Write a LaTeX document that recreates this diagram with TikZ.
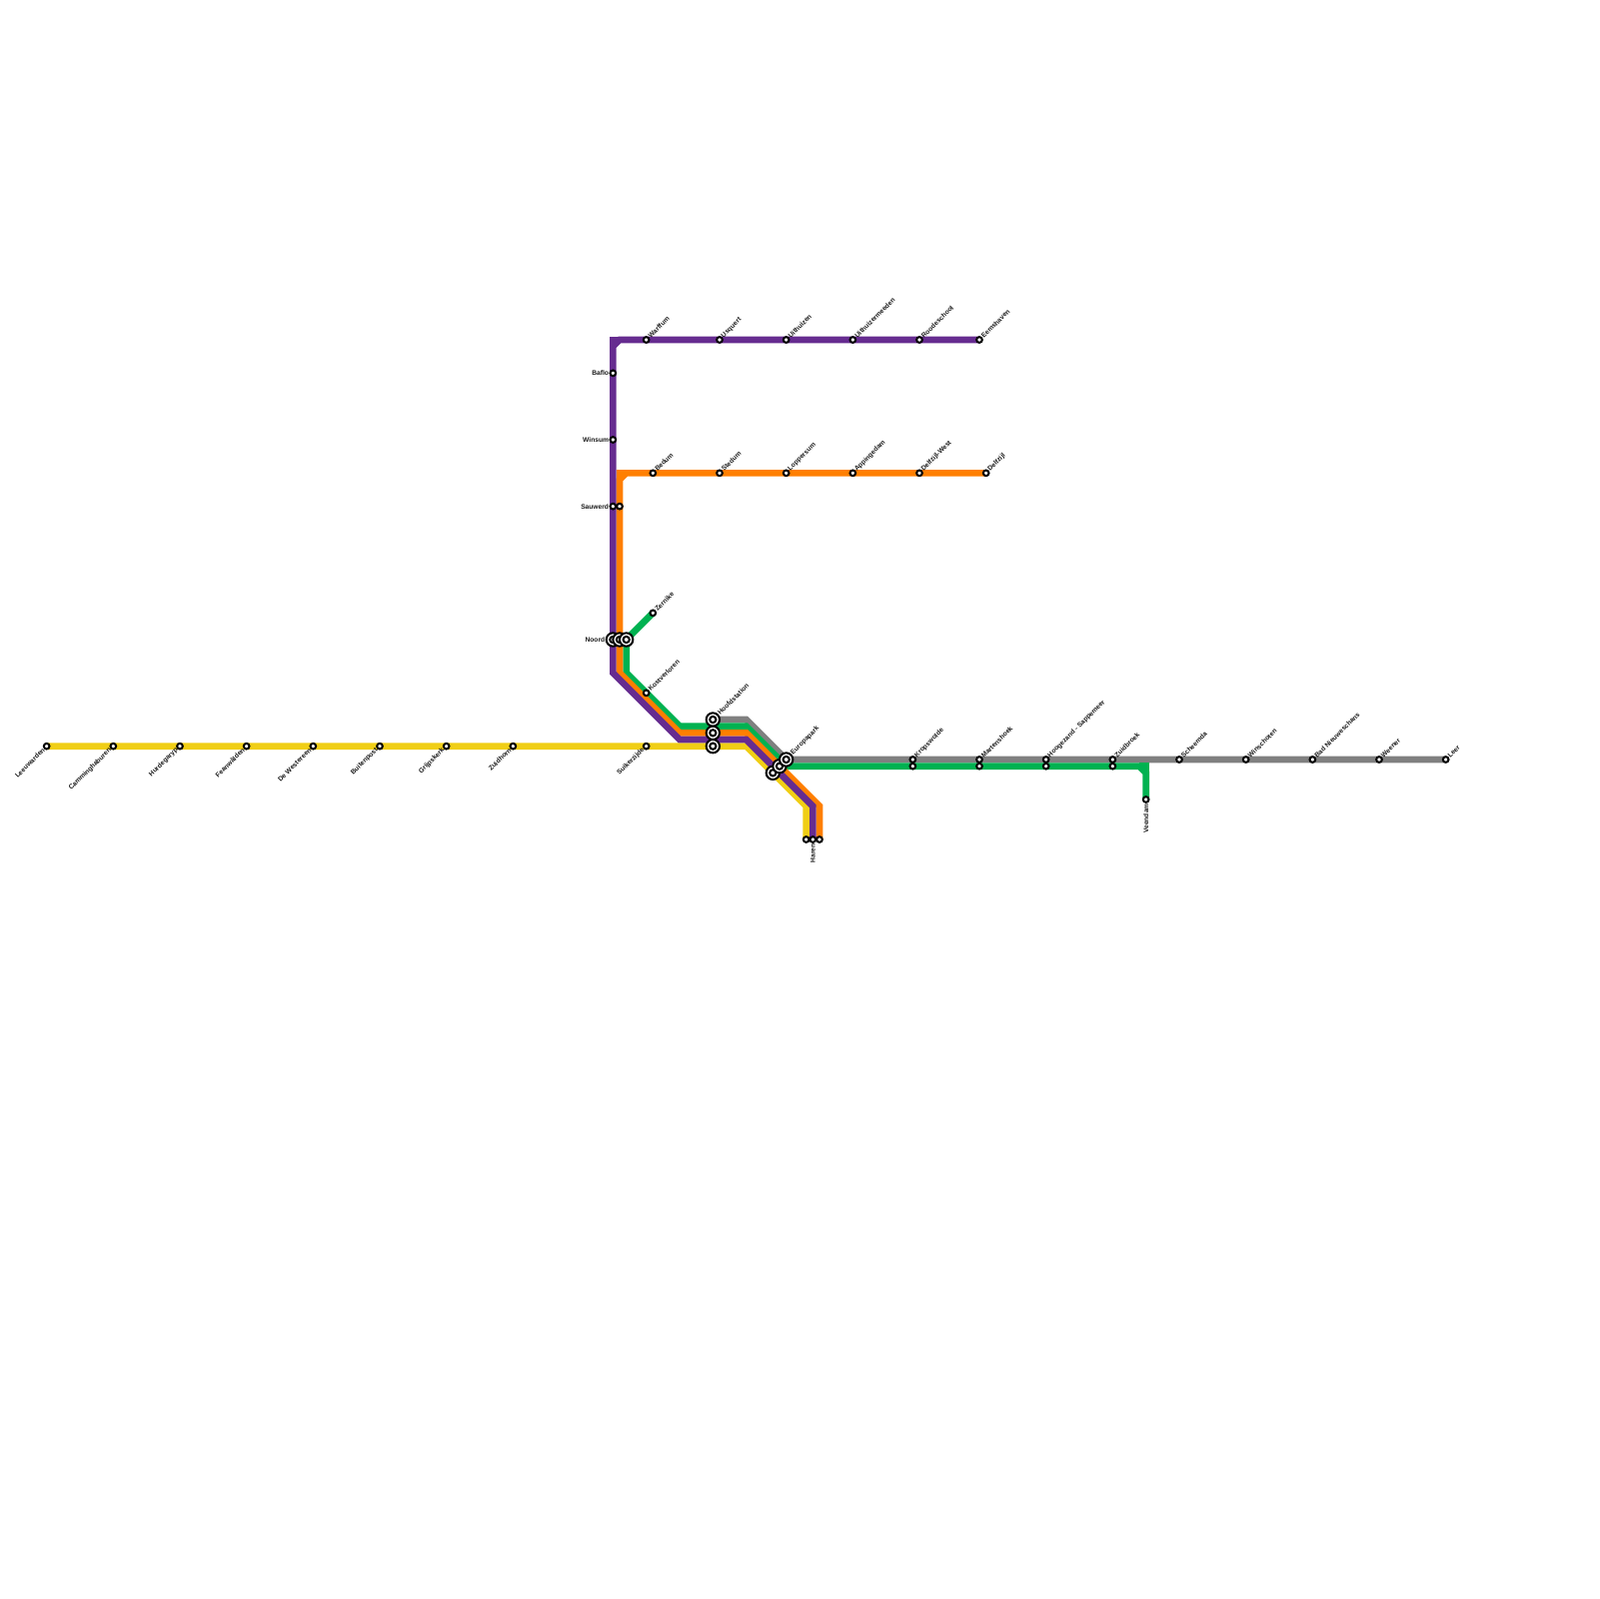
\documentclass[tikz,border=0pt]{standalone}
\usepackage{fontspec}
\setmainfont{Liberation Sans}
\usetikzlibrary{backgrounds}
\definecolor{lineyellow}{HTML}{F0CE15}
\definecolor{linepurple}{HTML}{662C90}
\definecolor{lineorange}{HTML}{FF7F00}
\definecolor{linegreen}{HTML}{00B251}
\definecolor{linegrey}{HTML}{808080}
\definecolor{labelink}{HTML}{1A1A1A}
\begin{document}
\begin{tikzpicture}[
  x=1mm, y=-1mm,
  stopnode/.style={circle, draw=black, line width=0.3mm, fill=white,
                   minimum size=0.85mm, inner sep=0pt, outer sep=0pt, label distance=0.15mm},
  hub/.style={stopnode, minimum size=2mm, label distance=0.3mm,
              path picture={\draw[black, line width=0.3mm] (path picture bounding box.center) circle (0.47);}},
  metro/.style={line width=1mm},
  labtext/.style={font=\fontsize{2.845}{3}\selectfont\bfseries, text=labelink, inner sep=0.15mm},
  labne/.style={labtext, rotate=45, anchor=west},
  labsw/.style={labtext, rotate=45, anchor=east},
  lableft/.style={labtext, anchor=east},
  labdown/.style={labtext, rotate=90, anchor=east}
]
  \node[stopnode, label={[labsw]225:Leeuwarden}] (leeuwarden) at (7,112) {};
  \node[stopnode, label={[labsw]225:Camminghaburen}] (camminghaburen) at (17,112) {};
  \node[stopnode, label={[labsw]225:Hurdegaryp}] (hurdegaryp) at (27,112) {};
  \node[stopnode, label={[labsw]225:Feanwâlden}] (feanwalden) at (37,112) {};
  \node[stopnode, label={[labsw]225:De Westereen}] (westereen) at (47,112) {};
  \node[stopnode, label={[labsw]225:Buitenpost}] (buitenpost) at (57,112) {};
  \node[stopnode, label={[labsw]225:Grijpskerk}] (grijpskerk) at (67,112) {};
  \node[stopnode, label={[labsw]225:Zuidhorn}] (zuidhorn) at (77,112) {};
  \node[stopnode, label={[labsw]225:Suikerzijde}] (suikerzijde) at (97,112) {};

  \node[stopnode, label={[labne]45:Warffum}] (warffum) at (97,51) {};
  \node[stopnode, label={[labne]45:Usquert}] (usquert) at (108,51) {};
  \node[stopnode, label={[labne]45:Uithuizen}] (uithuizen) at (118,51) {};
  \node[stopnode, label={[labne]45:Uithuizermeeden}] (uithuizermeeden) at (128,51) {};
  \node[stopnode, label={[labne]45:Roodeschool}] (roodeschool) at (138,51) {};
  \node[stopnode, label={[labne]45:Eemshaven}] (eemshaven) at (147,51) {};
  \node[stopnode, label={[lableft]180:Baflo}] (baflo) at (92,56) {};
  \node[stopnode, label={[lableft]180:Winsum}] (winsum) at (92,66) {};
  \node[stopnode, label={[lableft]180:Sauwerd}] (sauwerdA) at (92,76) {};
  \node[stopnode] (sauwerdB) at (93,76) {};

  \node[stopnode, label={[labne]45:Bedum}] (bedum) at (98,71) {};
  \node[stopnode, label={[labne]45:Stedum}] (stedum) at (108,71) {};
  \node[stopnode, label={[labne]45:Loppersum}] (loppersum) at (118,71) {};
  \node[stopnode, label={[labne]45:Appingedam}] (appingedam) at (128,71) {};
  \node[stopnode, label={[labne]45:Delfzijl-West}] (delfzijlwest) at (138,71) {};
  \node[stopnode, label={[labne]45:Delfzijl}] (delfzijl) at (148,71) {};

  \node[stopnode, label={[labne]45:Zernike}] (zernike) at (98,92) {};
  \node[hub, label={[lableft]180:Noord}] (noordA) at (92,96) {};
  \node[hub] (noordB) at (93,96) {};
  \node[hub] (noordC) at (94,96) {};
  \node[stopnode, label={[labne]45:Kostverloren}] (kostverloren) at (97,104) {};

  \node[hub, label={[labne]45:Hoofdstation}] (hoofdA) at (107,108) {};
  \node[hub] (hoofdB) at (107,110) {};
  \node[hub] (hoofdC) at (107,112) {};
  \node[hub] (europaC) at (116,116) {};
  \node[hub] (europaB) at (117,115) {};
  \node[hub, label={[labne]45:Europapark}] (europaA) at (118,114) {};

  \node[stopnode] (harenA) at (121,126) {};
  \node[stopnode, label={[labdown]270:Haren}] (harenB) at (122,126) {};
  \node[stopnode] (harenC) at (123,126) {};

  \node[stopnode, label={[labne]45:Kropswolde}] (kropswoldeA) at (137,114) {};
  \node[stopnode] (kropswoldeB) at (137,115) {};
  \node[stopnode, label={[labne]45:Martenshoek}] (martenshoekA) at (147,114) {};
  \node[stopnode] (martenshoekB) at (147,115) {};
  \node[stopnode, label={[labne]45:Hoogezand - Sappemeer}] (hoogezandA) at (157,114) {};
  \node[stopnode] (hoogezandB) at (157,115) {};
  \node[stopnode, label={[labne]45:Zuidbroek}] (zuidbroekA) at (167,114) {};
  \node[stopnode] (zuidbroekB) at (167,115) {};
  \node[stopnode, label={[labne]45:Scheemda}] (scheemda) at (177,114) {};
  \node[stopnode, label={[labne]45:Winschoten}] (winschoten) at (187,114) {};
  \node[stopnode, label={[labne]45:Bad Nieuweschans}] (nieuweschans) at (197,114) {};
  \node[stopnode, label={[labne]45:Weener}] (weener) at (207,114) {};
  \node[stopnode, label={[labne]45:Leer}] (leer) at (217,114) {};
  \node[stopnode, label={[labdown]270:Veendam}] (veendam) at (172,120) {};

  \coordinate (yellowbendA) at (112,112);
  \coordinate (yellowbendB) at (121,121);
  \coordinate (purplebendA) at (93,51);
  \coordinate (purplecorner) at (92,51);
  \coordinate (purplebendB) at (92,52);
  \coordinate (purplebendC) at (92,101);
  \coordinate (purplebendD) at (102,111);
  \coordinate (purplebendE) at (112,111);
  \coordinate (purplebendF) at (122,121);
  \coordinate (orangebendA) at (94,71);
  \coordinate (orangecorner) at (93,71);
  \coordinate (orangebendB) at (93,72);
  \coordinate (orangebendC) at (93,101);
  \coordinate (orangebendD) at (102,110);
  \coordinate (orangebendE) at (112,110);
  \coordinate (orangebendF) at (123,121);
  \coordinate (greenbendA) at (94,101);
  \coordinate (greenbendB) at (102,109);
  \coordinate (greenbendC) at (112,109);
  \coordinate (greenbendD) at (118,115);
  \coordinate (greenbendE) at (171,115);
  \coordinate (greencorner) at (172,115);
  \coordinate (greenbendF) at (172,116);
  \coordinate (greybendA) at (112,108);
  \coordinate (pagecorner) at (240,240);

  \begin{scope}[on background layer]
    \path[fill=white, use as bounding box] (0,0) rectangle (pagecorner);
    \draw[metro, lineyellow] (leeuwarden.center) -- (suikerzijde.center) -- (hoofdC.center) -- (yellowbendA)
      -- (europaC.center) -- (yellowbendB) -- (harenA.center);
    \draw[metro, linegrey] (hoofdA.center) -- (greybendA) -- (europaA.center) -- (leer.center);
    \draw[metro, linegreen] (zernike.center) -- (noordC.center) -- (greenbendA) -- (kostverloren.center)
      -- (greenbendB) -- (greenbendC) -- (greenbendD) -- (greenbendE) -- (greenbendF) -- (veendam.center);
    \draw[metro, linegreen] (greenbendE) -- (greencorner) -- (greenbendF);
    \draw[metro, lineorange] (delfzijl.center) -- (orangebendA) -- (orangebendB) -- (sauwerdB.center)
      -- (noordB.center) -- (orangebendC) -- (orangebendD) -- (hoofdB.center) -- (orangebendE)
      -- (europaB.center) -- (orangebendF) -- (harenC.center);
    \draw[metro, lineorange] (orangebendA) -- (orangecorner) -- (orangebendB);
    \draw[metro, linepurple] (eemshaven.center) -- (purplebendA) -- (purplebendB) -- (noordA.center)
      -- (purplebendC) -- (purplebendD) -- (purplebendE) -- (purplebendF) -- (harenB.center);
    \draw[metro, linepurple] (purplebendA) -- (purplecorner) -- (purplebendB);
  \end{scope}
\end{tikzpicture}
\end{document}
